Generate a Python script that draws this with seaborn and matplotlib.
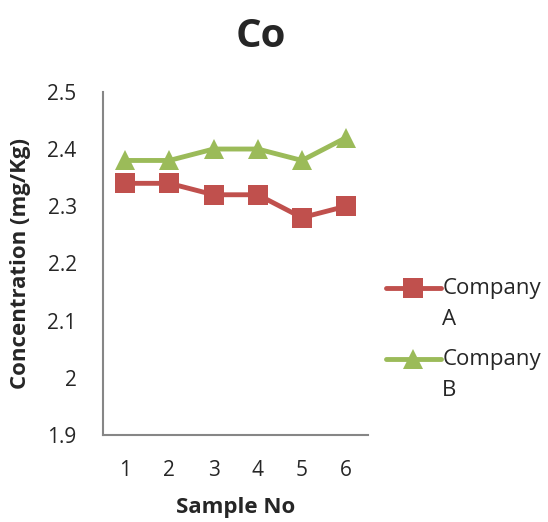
import pandas as pd
import seaborn as sns
import matplotlib.pyplot as plt

# data
samples = [1, 2, 3, 4, 5, 6]
company_a = [2.34, 2.34, 2.32, 2.32, 2.28, 2.30]
company_b = [2.38, 2.38, 2.40, 2.40, 2.38, 2.42]
series_names = ["Company A", "Company B"]

df = pd.DataFrame({
    "Sample No": samples * 2,
    "Concentration": company_a + company_b,
    "Company": [series_names[0]] * 6 + [series_names[1]] * 6,
})

sns.set_style("white")
plt.rcParams['font.family'] = ['Open Sans', 'DejaVu Sans']

fig = plt.figure(figsize=(5.48, 5.22), dpi=100)
ax = fig.add_axes([0.188, 0.167, 0.484, 0.657])

palette = {"Company A": "#C0504D", "Company B": "#9BBB59"}
markers = {"Company A": "s", "Company B": "^"}
sns.lineplot(data=df, x="Sample No", y="Concentration", hue="Company",
             style="Company", markers=markers, dashes=False, palette=palette,
             linewidth=3.5, markersize=15, markeredgewidth=0, ax=ax)

ax.set_xlim(0.5, 6.5)
ax.set_ylim(1.9, 2.5)
ax.set_xticks(samples)
ax.set_yticks([1.9, 2.0, 2.1, 2.2, 2.3, 2.4, 2.5])
ax.set_yticklabels(["1.9", "2", "2.1", "2.2", "2.3", "2.4", "2.5"])
ax.tick_params(axis='y', length=4, width=1.2, color='#868686', labelsize=15, pad=15)
ax.tick_params(axis='x', length=0, labelsize=15, pad=18)

for s in ["top", "right"]:
    ax.spines[s].set_visible(False)
for s in ["left", "bottom"]:
    ax.spines[s].set_color('#868686')
    ax.spines[s].set_linewidth(1.5)

ax.set_xlabel("Sample No", fontsize=16, fontweight='bold', labelpad=12)
ax.set_ylabel("Concentration (mg/Kg)", fontsize=16, fontweight='bold', labelpad=12)
fig.suptitle("Co", fontsize=29, fontweight='bold', x=0.476, y=0.968)

handles, labels = ax.get_legend_handles_labels()
leg = ax.legend(handles, ["Company\nA", "Company\nB"], loc='center left',
                bbox_to_anchor=(0.99, 0.278), frameon=False, fontsize=16,
                handlelength=2.5, handleheight=1.4, handletextpad=0.05,
                labelspacing=0.85)
for t in leg.get_texts():
    t.set_linespacing(1.65)
# put the legend line next to the first line of each wrapped label
for col in leg._legend_handle_box.get_children():
    for row in col.get_children():
        row.align = "top"

fig.savefig("out.png", dpi=100)
